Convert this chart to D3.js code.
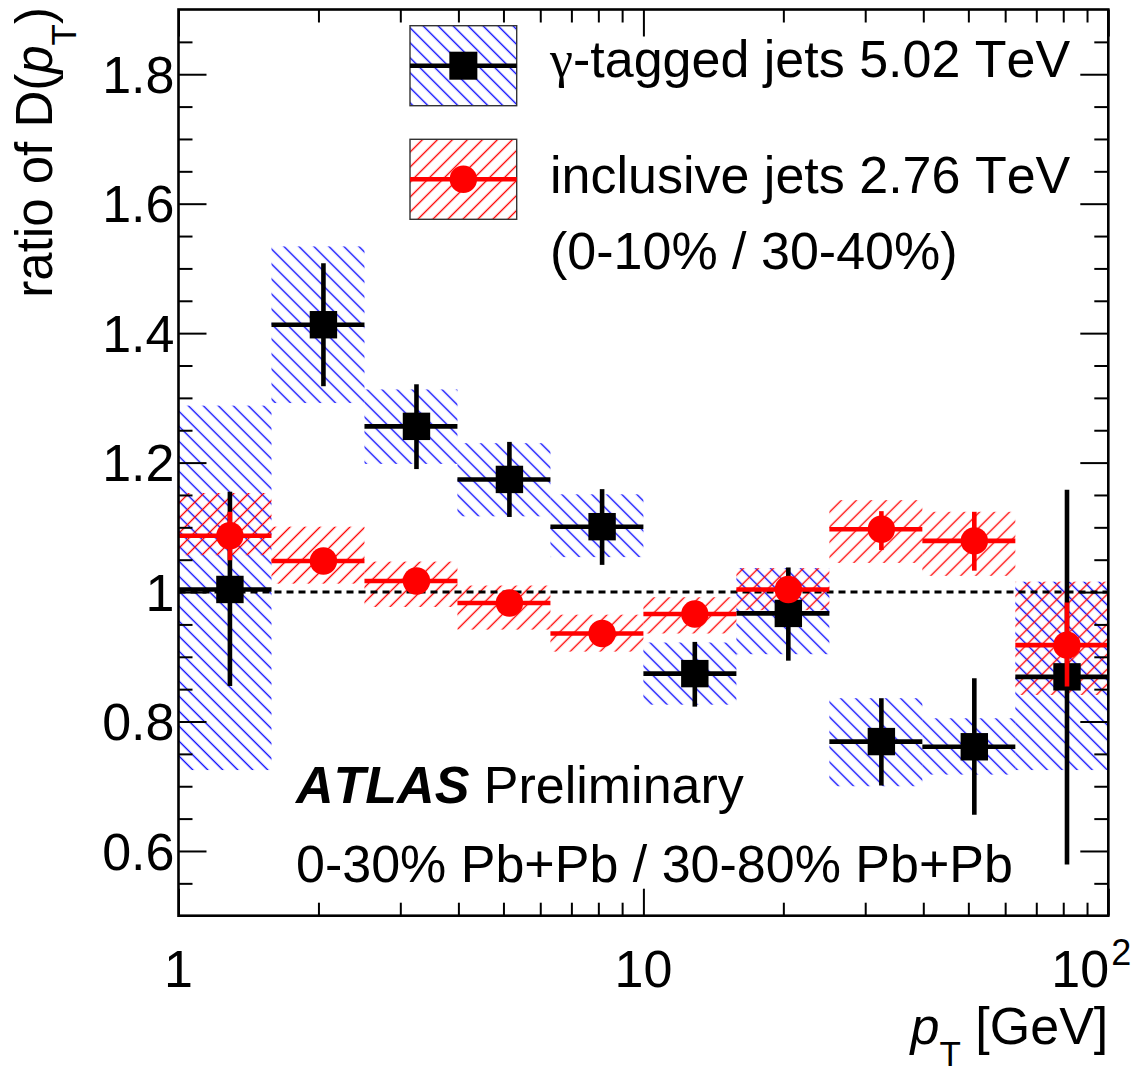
<!DOCTYPE html>
<html>
<head>
<meta charset="utf-8">
<script src="https://cdn.jsdelivr.net/npm/d3@7"></script>
<style>
  html, body { margin: 0; padding: 0; background: #fff; }
  svg text { font-family: "Liberation Sans", Arial, Helvetica, sans-serif; fill: #000; font-kerning: none; }
</style>
</head>
<body>
<svg id="chart" width="1148" height="1074"></svg>
<script>
// ---------------- data ----------------
const ptEdges   = [1, 1.585, 2.512, 3.981, 6.310, 10, 15.85, 25.12, 39.81, 63.10, 100];
const ptCenters = [1.29, 2.05, 3.25, 5.15, 8.15, 12.9, 20.5, 32.5, 51.5, 81.5];

// gamma-tagged jets 5.02 TeV  (0-30% / 30-80%)
const gammaRatio  = [1.004, 1.413, 1.256, 1.174, 1.101, 0.874, 0.967, 0.769, 0.761, 0.869];
const gammaStatHi = [1.155, 1.508, 1.321, 1.232, 1.159, 0.923, 1.038, 0.836, 0.867, 1.158];
const gammaStatLo = [0.855, 1.318, 1.190, 1.116, 1.042, 0.823, 0.894, 0.701, 0.656, 0.579];
const gammaSysHi  = [1.288, 1.534, 1.313, 1.230, 1.151, 0.922, 1.037, 0.836, 0.805, 1.016];
const gammaSysLo  = [0.725, 1.292, 1.198, 1.117, 1.054, 0.826, 0.904, 0.700, 0.718, 0.725];

// inclusive jets 2.76 TeV (0-10% / 30-40%)
const inclRatio  = [1.087, 1.048, 1.017, 0.983, 0.936, 0.966, 1.004, 1.097, 1.079, 0.918];
const inclStatHi = [1.124, 1.062, 1.030, 0.996, 0.948, 0.979, 1.017, 1.125, 1.124, 0.984];
const inclStatLo = [1.049, 1.034, 1.004, 0.970, 0.924, 0.953, 0.991, 1.065, 1.033, 0.854];
const inclSysHi  = [1.153, 1.101, 1.047, 1.010, 0.965, 0.992, 1.037, 1.142, 1.124, 1.016];
const inclSysLo  = [1.057, 1.013, 0.977, 0.942, 0.908, 0.936, 0.972, 1.045, 1.025, 0.841];

const yMajorTicks  = [0.6, 0.8, 1.0, 1.2, 1.4, 1.6, 1.8];
const yTickLabels  = ["0.6", "0.8", "1", "1.2", "1.4", "1.6", "1.8"];
const xMajorTicks  = [1, 10, 100];
const xMinorTicks  = [2, 3, 4, 5, 6, 7, 8, 9, 20, 30, 40, 50, 60, 70, 80, 90];

const legendLabels = ["-tagged jets 5.02 TeV", "inclusive jets 2.76 TeV", "(0-10% / 30-40%)"];

// ---------------- layout ----------------
const L = 178.5, R = 1108.3, T = 9.5, B = 915.7;
const FS = 52;
const svg = d3.select("#chart");

const x = d3.scaleLog().domain([1, 100]).range([L, R]);
const y = d3.scaleLinear().domain([0.5, 1.9]).range([B, T]);

// patterns
const defs = svg.append("defs");
function hatch(id, color, angle) {
  const p = defs.append("pattern").attr("id", id)
    .attr("patternUnits", "userSpaceOnUse")
    .attr("width", 10.6).attr("height", 10.6)
    .attr("patternTransform", `rotate(${angle})`);
  p.append("line").attr("x1", 5.3).attr("y1", -1).attr("x2", 5.3).attr("y2", 11.6)
    .attr("stroke", color).attr("stroke-width", 1.35);
}
hatch("hBlue", "#0000ff", -45);
hatch("hRed", "#ff0000", 45);

defs.append("clipPath").attr("id", "plotClip")
  .append("rect").attr("x", L).attr("y", T).attr("width", R - L).attr("height", B - T);

const plot = svg.append("g").attr("clip-path", "url(#plotClip)");

const idx = d3.range(ptCenters.length);

// systematic boxes
plot.append("g").selectAll("rect").data(idx).join("rect")
  .attr("x", i => x(ptEdges[i])).attr("width", i => x(ptEdges[i + 1]) - x(ptEdges[i]))
  .attr("y", i => y(gammaSysHi[i])).attr("height", i => y(gammaSysLo[i]) - y(gammaSysHi[i]))
  .attr("fill", "url(#hBlue)");
plot.append("g").selectAll("rect").data(idx).join("rect")
  .attr("x", i => x(ptEdges[i])).attr("width", i => x(ptEdges[i + 1]) - x(ptEdges[i]))
  .attr("y", i => y(inclSysHi[i])).attr("height", i => y(inclSysLo[i]) - y(inclSysHi[i]))
  .attr("fill", "url(#hRed)");

// reference line at 1
plot.append("line")
  .attr("x1", x(1)).attr("x2", x(100)).attr("y1", y(1)).attr("y2", y(1))
  .attr("stroke", "#000").attr("stroke-width", 3).attr("stroke-dasharray", "7,5");

// points with error bars
function series(vals, hi, lo, color, marker) {
  const g = plot.append("g");
  g.selectAll("line.h").data(idx).join("line").attr("class", "h")
    .attr("x1", i => x(ptEdges[i])).attr("x2", i => x(ptEdges[i + 1]))
    .attr("y1", i => y(vals[i])).attr("y2", i => y(vals[i]))
    .attr("stroke", color).attr("stroke-width", 4.6);
  g.selectAll("line.v").data(idx).join("line").attr("class", "v")
    .attr("x1", i => x(ptCenters[i])).attr("x2", i => x(ptCenters[i]))
    .attr("y1", i => y(hi[i])).attr("y2", i => y(lo[i]))
    .attr("stroke", color).attr("stroke-width", 4.6);
  if (marker === "square") {
    g.selectAll("rect").data(idx).join("rect")
      .attr("x", i => x(ptCenters[i]) - 13.7).attr("y", i => y(vals[i]) - 13.7)
      .attr("width", 27.4).attr("height", 27.4).attr("fill", color);
  } else {
    g.selectAll("circle").data(idx).join("circle")
      .attr("cx", i => x(ptCenters[i])).attr("cy", i => y(vals[i]))
      .attr("r", 13.7).attr("fill", color);
  }
}
series(gammaRatio, gammaStatHi, gammaStatLo, "#000", "square");
series(inclRatio, inclStatHi, inclStatLo, "#ff0000", "circle");

// ---------------- axes ----------------
const yMinor = d3.range(0.55, 1.86, 0.05).map(v => +v.toFixed(2)).filter(v => !yMajorTicks.some(m => Math.abs(m - v) < 1e-6));

function styleAxis(g) {
  g.select(".domain").remove();
  g.selectAll(".tick line").attr("stroke", "#000").attr("stroke-width", 2);
  g.selectAll(".tick text").remove();
}
svg.append("g").attr("transform", `translate(${L},0)`)
  .call(d3.axisRight(y).tickValues(yMajorTicks).tickSize(28).tickFormat("")).call(styleAxis);
svg.append("g").attr("transform", `translate(${L},0)`)
  .call(d3.axisRight(y).tickValues(yMinor).tickSize(14).tickFormat("")).call(styleAxis);
svg.append("g").attr("transform", `translate(${R},0)`)
  .call(d3.axisLeft(y).tickValues(yMajorTicks).tickSize(28).tickFormat("")).call(styleAxis);
svg.append("g").attr("transform", `translate(${R},0)`)
  .call(d3.axisLeft(y).tickValues(yMinor).tickSize(14).tickFormat("")).call(styleAxis);

svg.append("g").attr("transform", `translate(0,${B})`)
  .call(d3.axisTop(x).tickValues(xMajorTicks).tickSize(27).tickFormat("")).call(styleAxis);
svg.append("g").attr("transform", `translate(0,${B})`)
  .call(d3.axisTop(x).tickValues(xMinorTicks).tickSize(13).tickFormat("")).call(styleAxis);
svg.append("g").attr("transform", `translate(0,${T})`)
  .call(d3.axisBottom(x).tickValues(xMajorTicks).tickSize(27).tickFormat("")).call(styleAxis);
svg.append("g").attr("transform", `translate(0,${T})`)
  .call(d3.axisBottom(x).tickValues(xMinorTicks).tickSize(13).tickFormat("")).call(styleAxis);

// frame
svg.append("rect").attr("x", L).attr("y", T).attr("width", R - L).attr("height", B - T)
  .attr("fill", "none").attr("stroke", "#000").attr("stroke-width", 2.6);

// y tick labels
svg.append("g").selectAll("text").data(yMajorTicks).join("text")
  .attr("x", L - 4).attr("y", d => y(d) + 0.36 * FS)
  .attr("text-anchor", "end").attr("font-size", FS)
  .text((d, i) => yTickLabels[i]);

// x tick labels
svg.append("text").attr("x", x(1)).attr("y", 987).attr("text-anchor", "middle")
  .attr("font-size", FS).text("1");
svg.append("text").attr("x", x(10)).attr("y", 987).attr("text-anchor", "middle")
  .attr("font-size", FS).text("10");
const t100 = svg.append("text").attr("x", x(100) - 57).attr("y", 987).attr("font-size", FS);
t100.append("tspan").text("10");
t100.append("tspan").attr("font-size", 36).attr("dy", -22).attr("dx", 2).text("2");

// axis titles
const xt = svg.append("text").attr("x", R).attr("y", 1044).attr("text-anchor", "end").attr("font-size", FS);
xt.append("tspan").attr("font-style", "italic").text("p");
xt.append("tspan").attr("font-size", 35).attr("dy", 22).text("T");
xt.append("tspan").attr("dy", -22).text(" [GeV]");

const yt = svg.append("text").attr("transform", "translate(52,7) rotate(-90)")
  .attr("text-anchor", "end").attr("font-size", 51);
yt.append("tspan").text("ratio of D(");
yt.append("tspan").attr("font-style", "italic").text("p");
yt.append("tspan").attr("font-size", 35).attr("dy", 24).text("T");
yt.append("tspan").attr("dy", -24).text(")");

// ---------------- legend ----------------
const legY = [25.7, 139.3];
const legH = 80, legX = 410, legW = 106.7;
const legFill = ["url(#hBlue)", "url(#hRed)"];
const legColor = ["#000", "#ff0000"];
legY.forEach((ly, i) => {
  svg.append("rect").attr("x", legX).attr("y", ly).attr("width", legW).attr("height", legH)
    .attr("fill", legFill[i]).attr("stroke", "#333").attr("stroke-width", 1.4);
  const cy = ly + legH / 2;
  svg.append("line").attr("x1", legX).attr("x2", legX + legW).attr("y1", cy).attr("y2", cy)
    .attr("stroke", legColor[i]).attr("stroke-width", 4.6);
  if (i === 0) {
    svg.append("rect").attr("x", legX + legW / 2 - 14).attr("y", cy - 14)
      .attr("width", 28).attr("height", 28).attr("fill", "#000");
  } else {
    svg.append("circle").attr("cx", legX + legW / 2).attr("cy", cy).attr("r", 13.7).attr("fill", "#ff0000");
  }
});
const legBase = [77, 193, 269];
legendLabels.forEach((t, i) => {
  const tx = svg.append("text").attr("x", 550).attr("y", legBase[i]).attr("font-size", FS);
  if (i === 0) {
    tx.append("tspan").style("font-family", "'Liberation Serif', 'DejaVu Serif', serif").text("\u03b3");
  }
  tx.append("tspan").text(t);
});

// ---------------- labels ----------------
const at = svg.append("text").attr("x", 296).attr("y", 803).attr("font-size", FS);
at.append("tspan").attr("font-weight", "bold").attr("font-style", "italic").text("ATLAS");
at.append("tspan").text(" Preliminary");
svg.append("text").attr("x", 296).attr("y", 882).attr("font-size", FS)
  .text("0-30% Pb+Pb / 30-80% Pb+Pb");
</script>
</body>
</html>
